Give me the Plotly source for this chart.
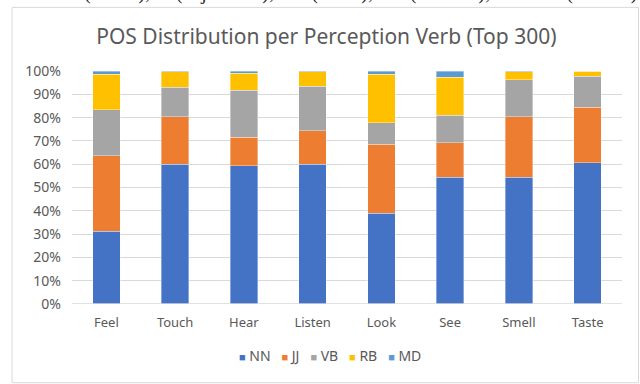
import plotly.graph_objects as go

# Perception verbs and POS shares (%)
verbs = ['Feel', 'Touch', 'Hear', 'Listen', 'Look', 'See', 'Smell', 'Taste']
nn = [31.2, 60.0, 59.4, 60.0, 39.0, 54.4, 54.4, 60.6]
jj = [32.4, 20.4, 12.1, 14.4, 29.5, 14.8, 26.0, 23.9]
vb = [19.7, 12.6, 20.3, 19.1, 9.2, 11.8, 15.9, 13.3]
rb = [15.3, 6.6, 7.3, 6.2, 20.9, 16.4, 3.3, 2.2]
md = [1.4, 0.4, 0.9, 0.3, 1.4, 2.6, 0.4, 0.0]

series = [
    ('NN', nn, '#4472C4'),
    ('JJ', jj, '#ED7D31'),
    ('VB', vb, '#A5A5A5'),
    ('RB', rb, '#FFC000'),
    ('MD', md, '#5B9BD5'),
]

fig = go.Figure()
for name, vals, col in series:
    fig.add_trace(go.Bar(
        x=verbs, y=vals, name=name,
        marker=dict(color=col, line=dict(width=0.6, color='rgba(255,255,255,0.6)')),
        showlegend=False,
    ))

# compact Excel-style legend built as one line of text
legend_txt = '&nbsp;&nbsp;&nbsp;'.join(
    "<span style='color:%s;font-size:11px'>■</span> %s" % (col, name)
    for name, _, col in series)

frame = '#D9D9D9'
# frame edges in paper coords (plot area is 72..622 x 71..304 px)
fx0, fx1, fy0, fy1 = -0.109, 1.030, -0.338, 1.273

fig.update_layout(
    barmode='stack',
    bargap=0.6,
    width=640, height=384,
    margin=dict(l=72, r=18, t=71, b=80),
    paper_bgcolor='white',
    plot_bgcolor='white',
    font=dict(family='Noto Sans', size=13, color='#595959'),
    title=dict(text='POS Distribution per Perception Verb (Top 300)',
               x=0.51, xanchor='center', y=0.905, yanchor='middle',
               font=dict(size=21, color='#595959')),
    xaxis=dict(showgrid=False, zeroline=False, showline=False, ticks='',
               ticklabelstandoff=9),
    yaxis=dict(range=[0, 100], dtick=10, ticksuffix='%', showgrid=True,
               gridcolor='#D9D9D9', gridwidth=1, zeroline=False, showline=False,
               tickfont=dict(size=14), ticklabelstandoff=10),
    shapes=[
        dict(type='line', xref='paper', yref='y', x0=0, x1=1, y0=0, y1=0,
             line=dict(color='#D9D9D9', width=1.5)),
        dict(type='line', xref='paper', yref='paper', x0=fx0, x1=fx0, y0=fy0, y1=fy1,
             line=dict(color=frame, width=1)),
        dict(type='line', xref='paper', yref='paper', x0=fx1, x1=fx1, y0=fy0, y1=fy1,
             line=dict(color=frame, width=1)),
        dict(type='line', xref='paper', yref='paper', x0=fx0, x1=fx1, y0=fy1, y1=fy1,
             line=dict(color=frame, width=1)),
        dict(type='line', xref='paper', yref='paper', x0=fx0, x1=fx1, y0=fy0, y1=fy0,
             line=dict(color=frame, width=1)),
    ],
    annotations=[
        dict(text=legend_txt, xref='paper', yref='paper', x=0.469, y=-0.219,
             xanchor='center', yanchor='middle', showarrow=False,
             font=dict(size=14, color='#595959')),
        dict(text='(nouns), JJ (adjectives), VB (verbs), RB (adverbs), and MD (modals)',
             xref='paper', yref='paper', x=1.03, y=1.337, xanchor='right',
             yanchor='middle', showarrow=False,
             font=dict(family='Liberation Serif', size=20, color='#222222')),
    ],
)

fig.write_html('out.html', config={'displayModeBar': False},
               post_script="document.body.style.margin='0';"
                           "document.documentElement.style.overflow='hidden';"
                           "document.body.style.overflow='hidden';")
